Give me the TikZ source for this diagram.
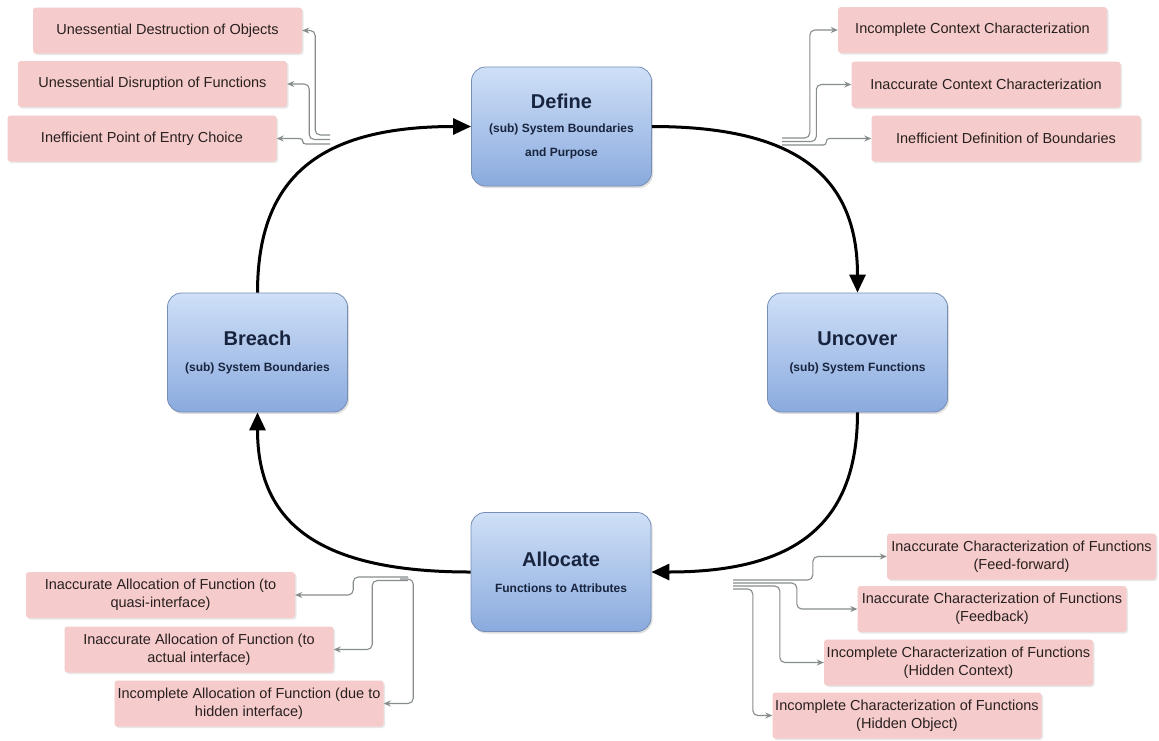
\documentclass[tikz,border=0pt]{standalone}
\usepackage{fontspec}
\setmainfont{Liberation Sans}
\usetikzlibrary{arrows.meta,shadows,calc}
\definecolor{btop}{RGB}{207,224,247}
\definecolor{bbot}{RGB}{138,170,222}
\definecolor{bline}{RGB}{118,142,182}
\definecolor{btext}{RGB}{24,36,62}
\definecolor{pfill}{RGB}{246,203,203}
\definecolor{ptext}{RGB}{40,32,32}
\definecolor{sline}{RGB}{135,140,140}
\begin{document}
\begin{tikzpicture}[x=1pt,y=-1pt,
 stage/.style={draw=bline,line width=0.8pt,rounded corners=14pt,top color=btop,bottom color=bbot,
   minimum width=180pt,minimum height=119pt,inner sep=0pt,align=center,text=btext,
   font=\fontsize{12}{24}\selectfont\bfseries,
   drop shadow={opacity=0.25,shadow xshift=1.5pt,shadow yshift=-2pt}},
 issue/.style={fill=pfill,rounded corners=3pt,minimum width=269pt,minimum height=46pt,inner sep=0pt,
   align=center,text=ptext,font=\fontsize{14.5}{18}\selectfont,
   drop shadow={opacity=0.18,shadow xshift=1.5pt,shadow yshift=-1.5pt}},
 cyc/.style={line width=3pt,-{Triangle[length=18pt,width=16pt]}},
 sub/.style={draw=sline,line width=1.1pt,rounded corners=5pt,-{Stealth[length=7pt,width=6pt]}}
]
\fill[white] (0,0) rectangle (1159,740);
\useasboundingbox (0,0) rectangle (1159,740);

% main stages
\node[stage] (define) at (561.5,126.5) {{\fontsize{20}{24}\selectfont Define}\\(sub) System Boundaries\\and Purpose};
\node[stage] (breach) at (257.5,352.5) {{\fontsize{20}{24}\selectfont Breach}\\[2pt](sub) System Boundaries};
\node[stage] (uncover) at (857.5,352.5) {{\fontsize{20}{24}\selectfont Uncover}\\[2pt](sub) System Functions};
\node[stage] (allocate) at (561,572) {{\fontsize{20}{24}\selectfont Allocate}\\[2pt]Functions to Attributes};

% cycle
\draw[cyc] (breach.north) .. controls +(0,-117) and +(-150,0) .. (define.west);
\draw[cyc] (define.east) .. controls +(144,0) and +(0,-117) .. (uncover.north);
\draw[cyc] (uncover.south) .. controls +(0,112) and +(144,0) .. (allocate.east);
\draw[cyc] (allocate.west) .. controls +(-150,0) and +(0,112) .. (breach.south);

% issue boxes
\node[issue] (p1) at (167.5,30.5) {Unessential Destruction of Objects};
\node[issue] (p2) at (152.5,84) {Unessential Disruption of Functions};
\node[issue] (p3) at (142,138.5) {Inefficient Point of Entry Choice};
\node[issue] (p4) at (972.5,30) {Incomplete Context Characterization};
\node[issue] (p5) at (986,84.5) {Inaccurate Context Characterization};
\node[issue] (p6) at (1006,138.5) {Inefficient Definition of Boundaries};
\node[issue] (p7) at (160.5,595) {Inaccurate Allocation of Function (to\\quasi-interface)};
\node[issue] (p8) at (199,649.5) {Inaccurate Allocation of Function (to\\actual interface)};
\node[issue] (p9) at (249,703.5) {Incomplete Allocation of Function (due to\\hidden interface)};
\node[issue] (p10) at (1021.5,556.5) {Inaccurate Characterization of Functions\\(Feed-forward)};
\node[issue] (p11) at (992,609) {Inaccurate Characterization of Functions\\(Feedback)};
\node[issue] (p12) at (958.5,662.5) {Incomplete Characterization of Functions\\(Hidden Context)};
\node[issue] (p13) at (907,715.5) {Incomplete Characterization of Functions\\(Hidden Object)};

% connector origins
\coordinate (tl1) at (330,135);
\coordinate (tl2) at (330,139.5);
\coordinate (tl3) at (330,144);
\coordinate (tr1) at (782,138);
\coordinate (tr2) at (782,141.5);
\coordinate (tr3) at (782,145);
\coordinate (bl1) at (408,577);
\coordinate (bl2) at (408,580.5);
\coordinate (bl3) at (400,579);
\coordinate (br1) at (733,580);
\coordinate (br2) at (733,583);
\coordinate (br3) at (733,586);
\coordinate (br4) at (733,589);

% connectors
\draw[sub] (tl1) -| ([xshift=13pt]p1.east) -- (p1.east);
\draw[sub] (tl2) -| ([xshift=22pt]p2.east) -- (p2.east);
\draw[sub,rounded corners=3pt] (tl3) -| ([xshift=26pt]p3.east) -- (p3.east);
\draw[sub] (tr1) -| ([xshift=-28pt]p4.west) -- (p4.west);
\draw[sub] (tr2) -| ([xshift=-35pt]p5.west) -- (p5.west);
\draw[sub,rounded corners=3pt] (tr3) -| ([xshift=-45pt]p6.west) -- (p6.west);
\draw[sub] (bl1) -| ([xshift=58pt]p7.east) -- (p7.east);
\draw[sub] (bl2) -| ([xshift=38.5pt]p8.east) -- (p8.east);
\draw[sub] (bl3) -| ([xshift=29.5pt]p9.east) -- (p9.east);
\draw[sub] (br1) -| ([xshift=-74pt]p10.west) -- (p10.west);
\draw[sub] (br2) -| ([xshift=-60.5pt]p11.west) -- (p11.west);
\draw[sub] (br3) -| ([xshift=-44pt]p12.west) -- (p12.west);
\draw[sub] (br4) -| ([xshift=-19.5pt]p13.west) -- (p13.west);
\end{tikzpicture}
\end{document}
